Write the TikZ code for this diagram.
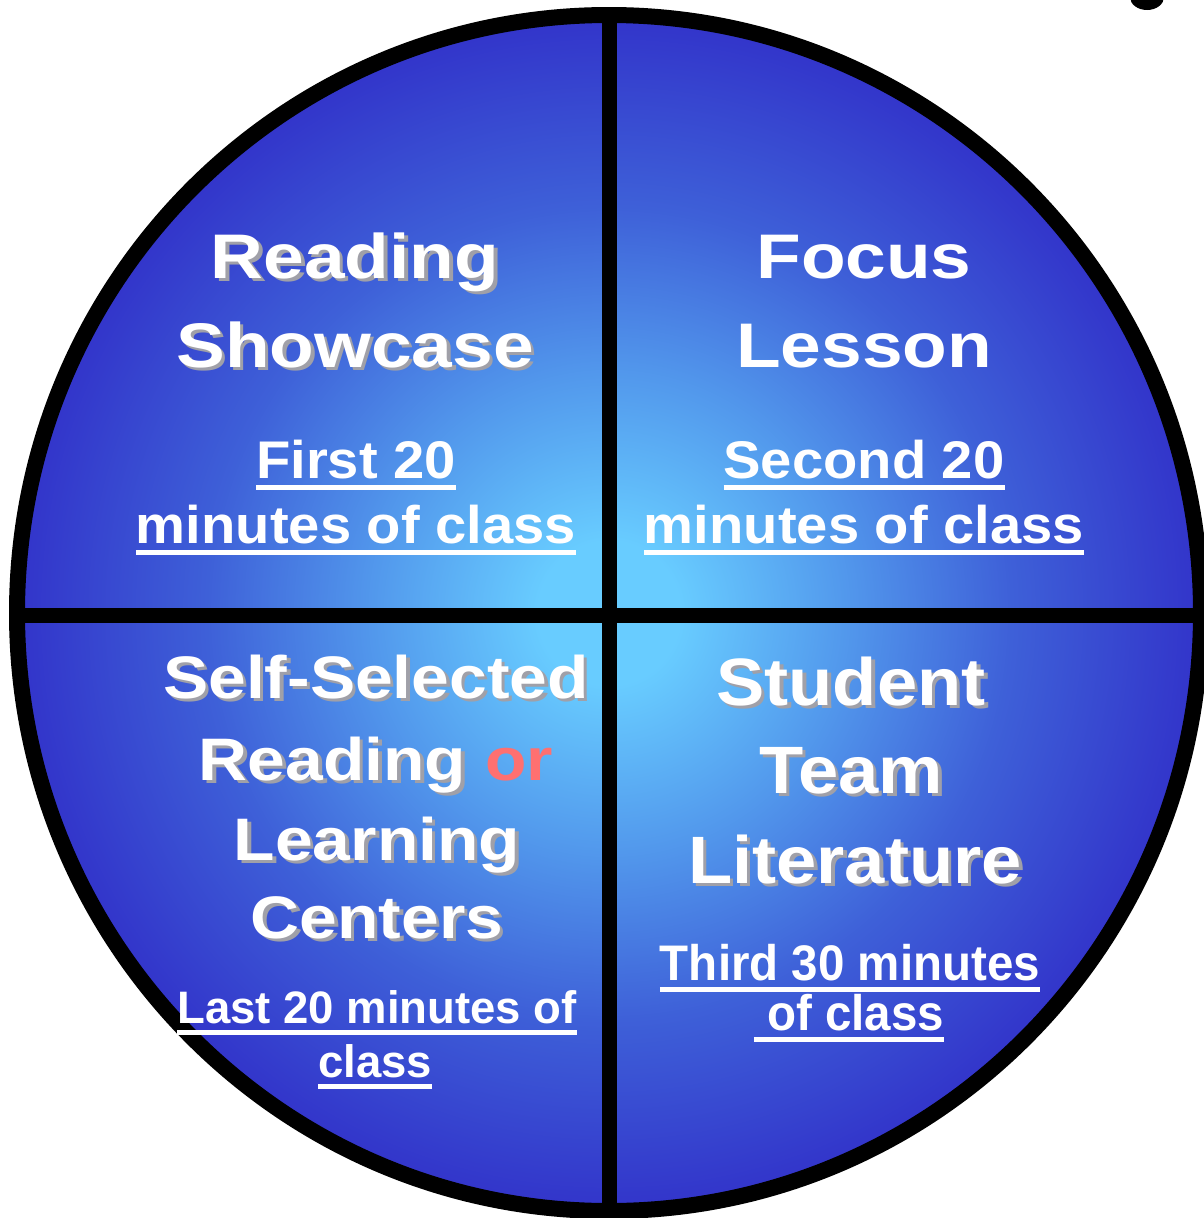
\documentclass[tikz,border=0pt]{standalone}
\usepackage{fontspec}
\setmainfont{Liberation Sans}
\newsavebox\ulbox
\newcommand\ulx[1]{\sbox\ulbox{#1}\rlap{\rule[-12pt]{\wd\ulbox}{5pt}}\usebox\ulbox}
\newfontfamily\fTitle{Liberation Sans}[FakeStretch=1.16]
\newfontfamily\fTitleBL{Liberation Sans}[FakeStretch=1.13]
\newfontfamily\fTitleBR{Liberation Sans}[FakeStretch=1.08]
\newfontfamily\fSubT{Liberation Sans}[FakeStretch=1.06]
\newfontfamily\fSubBR{Liberation Sans}[FakeStretch=0.95]
\newcommand\ftA{\fTitle\bfseries\fontsize{63}{70}\selectfont}
\newcommand\ftBL{\fTitleBL\bfseries\fontsize{60}{66}\selectfont}
\newcommand\ftBR{\fTitleBR\bfseries\fontsize{67}{72}\selectfont}
\newcommand\fsT{\fSubT\bfseries\fontsize{53}{58}\selectfont}
\newcommand\fsBL{\bfseries\fontsize{45.5}{50}\selectfont}
\newcommand\fsBR{\fSubBR\bfseries\fontsize{50}{55}\selectfont}
\definecolor{shgray}{RGB}{160,160,168}
\definecolor{orred}{RGB}{255,112,112}
\definecolor{cC}{RGB}{104,204,255}
\definecolor{cM}{RGB}{82,152,236}
\definecolor{cM2}{RGB}{62,96,216}
\definecolor{cO}{RGB}{50,52,202}
\pgfdeclareradialshading{disc}{\pgfpoint{0bp}{0bp}}{color(0bp)=(cC); color(3bp)=(cC); color(10bp)=(cM); color(17bp)=(cM2); color(25bp)=(cO); color(50bp)=(cO)}
\newcommand\orword{\textcolor{orred}{or}}
\newcommand\orshadow{\phantom{or}}
% name, x, baseline y, font, text
\newcommand\shline[5]{%
  \node[shadowtxt] at (#2+3.5,#3+3.5) {\let\orword\orshadow #4#5};
  \node[titletxt] (#1) at (#2,#3) {#4#5};}
\begin{document}
\begin{tikzpicture}[x=1pt,y=-1pt,
  titletxt/.style={text=white, inner sep=0pt, anchor=base},
  shadowtxt/.style={text=shgray, inner sep=0pt, anchor=base},
  subtxt/.style={text=white, inner sep=0pt, anchor=base},
  rim/.style={line width=16pt, draw=black},
  divider/.style={line width=15pt, draw=black}]
\useasboundingbox (0,0) rectangle (1204,1218);
\clip (0,0) rectangle (1204,1218);
\fill[white] (0,0) rectangle (1204,1218);
\coordinate (C) at (609,613);
\shade[shading=disc] (C) ellipse [x radius=592, y radius=598];
\coordinate (T) at (609,15);
\coordinate (B) at (609,1211);
\coordinate (L) at (17,615);
\coordinate (R) at (1201,615);
\draw[divider] (T) -- (B);
\draw[divider] (L) -- (R);
\draw[rim] (C) ellipse [x radius=592, y radius=598];
\fill[black] (1147,-3) ellipse [x radius=17, y radius=13];
% top left
\shline{tl1}{355}{278}{\ftA}{Reading}
\shline{tl2}{355}{367}{\ftA}{Showcase}
\node[subtxt] (tl3) at (356,478) {\fsT\ulx{First 20}};
\node[subtxt] (tl4) at (356,543) {\fsT\ulx{minutes of class}};
% top right
\node[titletxt] (tr1) at (864,278) {\ftA Focus};
\node[titletxt] (tr2) at (864,367) {\ftA Lesson};
\node[subtxt] (tr3) at (864,478) {\fsT\ulx{Second 20}};
\node[subtxt] (tr4) at (864,543) {\fsT\ulx{minutes of class}};
% bottom left
\shline{bl1}{376}{698}{\ftBL}{Self-Selected}
\shline{bl2}{376}{780}{\ftBL}{Reading \orword}
\shline{bl3}{377}{860}{\ftBL}{Learning}
\shline{bl4}{377}{938}{\ftBL}{Centers}
\node[subtxt] (bl5) at (377,1023) {\fsBL\ulx{Last 20 minutes of}};
\node[subtxt] (bl6) at (375,1077) {\fsBL\ulx{class}};
% bottom right
\shline{br1}{851}{705}{\ftBR}{Student}
\shline{br2}{851}{793}{\ftBR}{Team}
\shline{br3}{855}{883}{\ftBR}{Literature}
\node[subtxt] (br4) at (850,980) {\fsBR\ulx{Third 30 minutes}};
\node[subtxt] (br5) at (849,1030) {\fsBR\ulx{\ of class}};
\end{tikzpicture}
\end{document}
